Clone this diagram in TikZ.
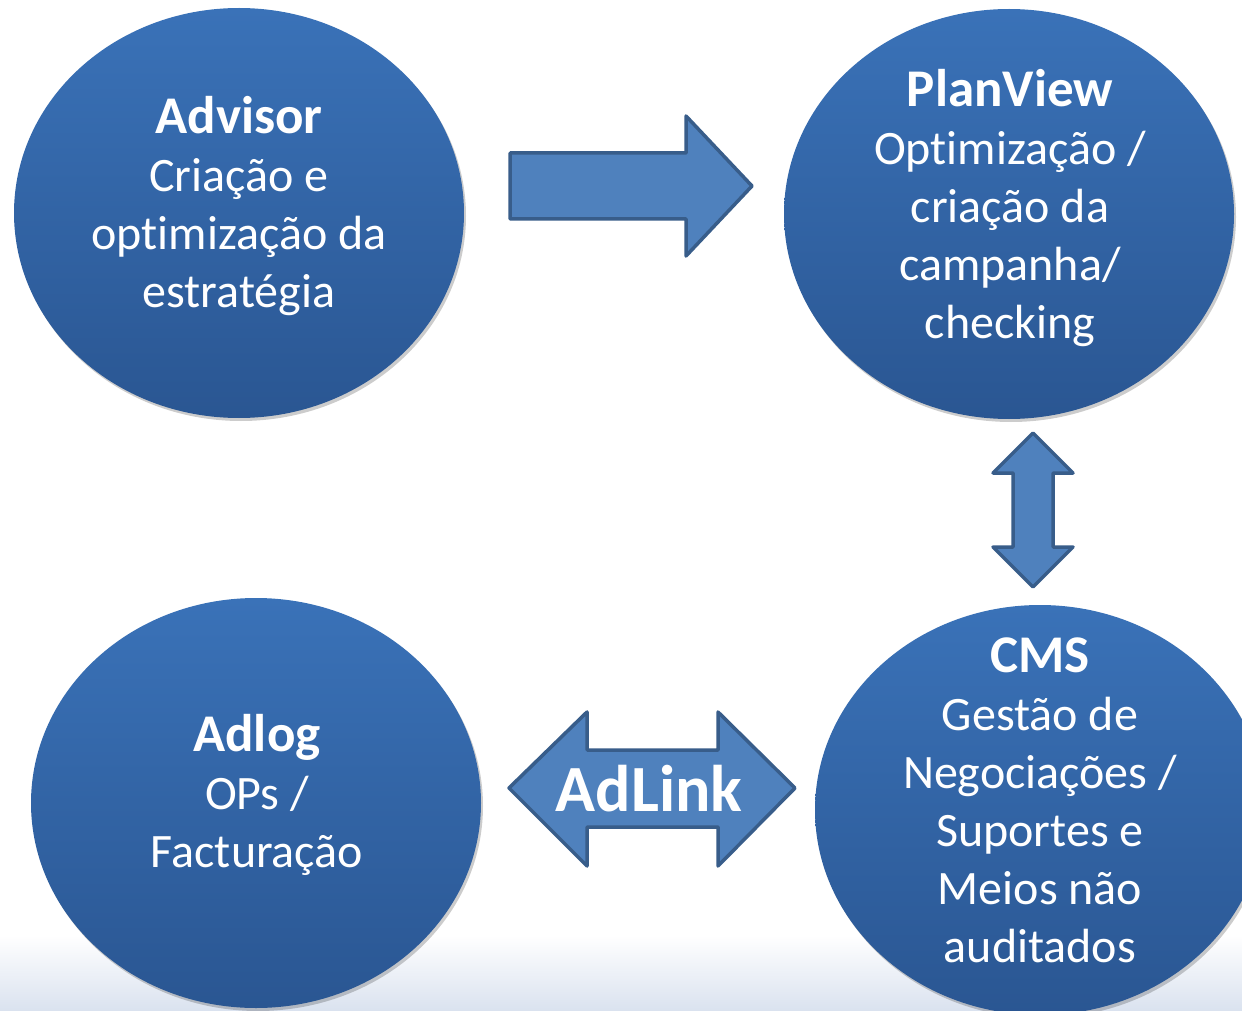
\documentclass[tikz,border=0pt]{standalone}
\usepackage{fontspec}
\setmainfont[Ligatures=CommonOff]{Carlito}
\usetikzlibrary{shapes.geometric,shadows}
\definecolor{bubtop}{RGB}{58,114,184}
\definecolor{bubbot}{RGB}{42,86,146}
\definecolor{arrfill}{RGB}{79,129,189}
\definecolor{arrline}{RGB}{56,93,138}
\definecolor{bandbot}{RGB}{218,226,239}
\tikzset{
  bub/.style={ellipse, minimum width=450pt, minimum height=410pt, inner sep=0pt,
    top color=bubtop, bottom color=bubbot, draw=none,
    drop shadow={shadow xshift=2pt, shadow yshift=-3pt, opacity=0.2, fill=black}},
  txt/.style={text=white, align=center, inner sep=0pt, font=\fontsize{48}{58}\selectfont},
  blockarrow/.style={fill=arrfill, draw=arrline, line width=3.5pt, line join=round}
}
\newcommand{\ttl}[1]{{\fontsize{53}{58}\selectfont\bfseries #1}}
\begin{document}
\begin{tikzpicture}[x=1pt,y=-1pt]
\useasboundingbox (0,0) rectangle (1242,1011);
\fill[white] (0,0) rectangle (1242,1011);
\shade[top color=white, bottom color=bandbot] (0,935) rectangle (1242,1011);

\node[bub] (advisor) at (239,213) {};
\node[bub] (planview) at (1009,214) {};
\node[bub] (adlog) at (256,803) {};
\node[bub] (cms) at (1040,810) {};

\node[txt] (advisorT) at (239,206) {\ttl{Advisor}\\Criação e\\optimização da\\estratégia};
\node[txt] (planviewT) at (1010,208) {\ttl{PlanView}\\Optimização /\\criação da\\campanha/\\checking};
\node[txt] (adlogT) at (257,795) {\ttl{Adlog}\\OPs /\\Facturação};
\node[txt] (cmsT) at (1040,800) {\ttl{CMS}\\Gestão de\\Negociações /\\Suportes e\\Meios não\\auditados};

\draw[blockarrow] (510,153) -- (686,153) -- (686,116) -- (752,186) -- (686,256) -- (686,219) -- (510,219) -- cycle;
\draw[blockarrow] (1033,433) -- (1073,473) -- (1053,473) -- (1053,547) -- (1073,547) -- (1033,587)
  -- (993,547) -- (1013,547) -- (1013,473) -- (993,473) -- cycle;
\draw[blockarrow] (509,788) -- (587,712) -- (587,750) -- (718,750) -- (718,712) -- (795,788)
  -- (718,866) -- (718,827) -- (587,827) -- (587,866) -- cycle;
\node[text=white, inner sep=0pt, font=\fontsize{66}{72}\selectfont\bfseries] (adlink) at (649,789) {AdLink};
\end{tikzpicture}
\end{document}
